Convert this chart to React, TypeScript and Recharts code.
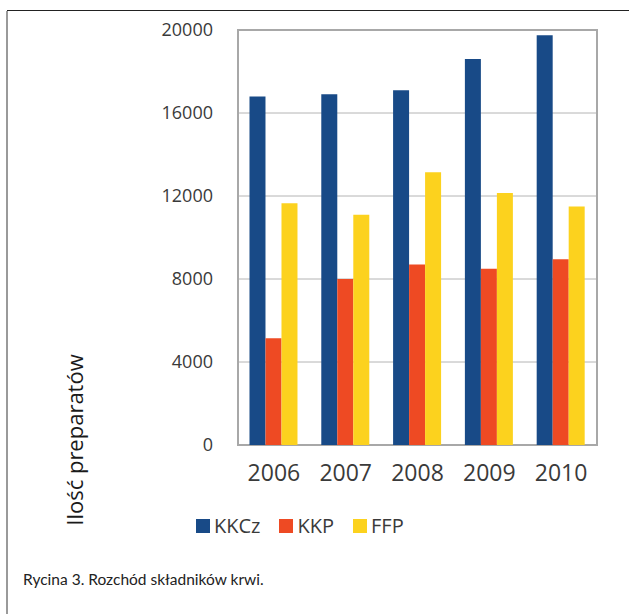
import { Bar, BarChart, CartesianGrid, ReferenceArea, XAxis, YAxis } from "recharts";

const YEARS = ["2006", "2007", "2008", "2009", "2010"];
const KKCZ = [16800, 16900, 17100, 18600, 19750];
const KKP = [5150, 8000, 8700, 8500, 8950];
const FFP = [11650, 11100, 13150, 12150, 11500];
const Y_TICKS = [0, 4000, 8000, 12000, 16000, 20000];

const SERIES = [
  { key: "KKCz", color: "#184A87" },
  { key: "KKP", color: "#EE4A23" },
  { key: "FFP", color: "#FCD21E" },
];

const FONT = "'Open Sans', sans-serif";
const TEXT = "#3a3a3a";
const BORDER = "#a8a8a8";

const data = YEARS.map((year, i) => ({ year, KKCz: KKCZ[i], KKP: KKP[i], FFP: FFP[i] }));

export default function App() {
  return (
    <div style={{ position: "absolute", left: 0, top: 0, width: 629, height: 614, background: "#fff", overflow: "hidden", fontFamily: FONT }}>
      {/* figure frame */}
      <div style={{ position: "absolute", left: 7, top: 10, right: 0, height: 0, borderTop: "1.5px solid #222" }} />
      <div style={{ position: "absolute", left: 6, top: 11, bottom: 0, width: 0, borderLeft: "2px solid #9a9a9a" }} />

      <div style={{ position: "absolute", left: 0, top: 0 }}>
        <BarChart
          width={629}
          height={560}
          data={data}
          margin={{ top: 30, right: 32, bottom: 55, left: 0 }}
          barCategoryGap="16%"
          barGap={0}
        >
          <CartesianGrid vertical={false} stroke="#b4b4b4" />
          <XAxis
            dataKey="year"
            height={60}
            tickSize={0}
            tickMargin={20}
            axisLine={false}
            tick={{ fill: TEXT, fontSize: 23, fontFamily: FONT }}
          />
          <YAxis
            width={238}
            domain={[0, 20000]}
            ticks={Y_TICKS}
            tickSize={0}
            tickMargin={25}
            axisLine={false}
            tick={{ fill: TEXT, fontSize: 18, fontFamily: FONT }}
          />
          <ReferenceArea y1={0} y2={20000} fill="none" stroke={BORDER} strokeWidth={2} ifOverflow="visible" />
          {SERIES.map((s) => (
            <Bar key={s.key} dataKey={s.key} fill={s.color} isAnimationActive={false} />
          ))}
        </BarChart>
      </div>

      {/* axis title */}
      <div
        style={{
          position: "absolute",
          left: 74,
          top: 440,
          transform: "translate(-50%, -50%) rotate(-90deg)",
          whiteSpace: "nowrap",
          fontSize: 22,
          color: "#1a1a1a",
        }}
      >
        Ilość preparatów
      </div>

      {/* legend */}
      <div style={{ position: "absolute", left: 196, top: 512, display: "flex", alignItems: "center", fontSize: 20, color: TEXT }}>
        {SERIES.map((s) => (
          <div key={s.key} style={{ display: "flex", alignItems: "center", marginRight: 19 }}>
            <span style={{ display: "inline-block", width: 14, height: 14, background: s.color, marginRight: 4 }} />
            <span>{s.key}</span>
          </div>
        ))}
      </div>

      <div style={{ position: "absolute", left: 23, top: 570, fontSize: 15.5, color: "#222", fontFamily: "Lato, sans-serif" }}>
        Rycina 3. Rozchód składników krwi.
      </div>
    </div>
  );
}
